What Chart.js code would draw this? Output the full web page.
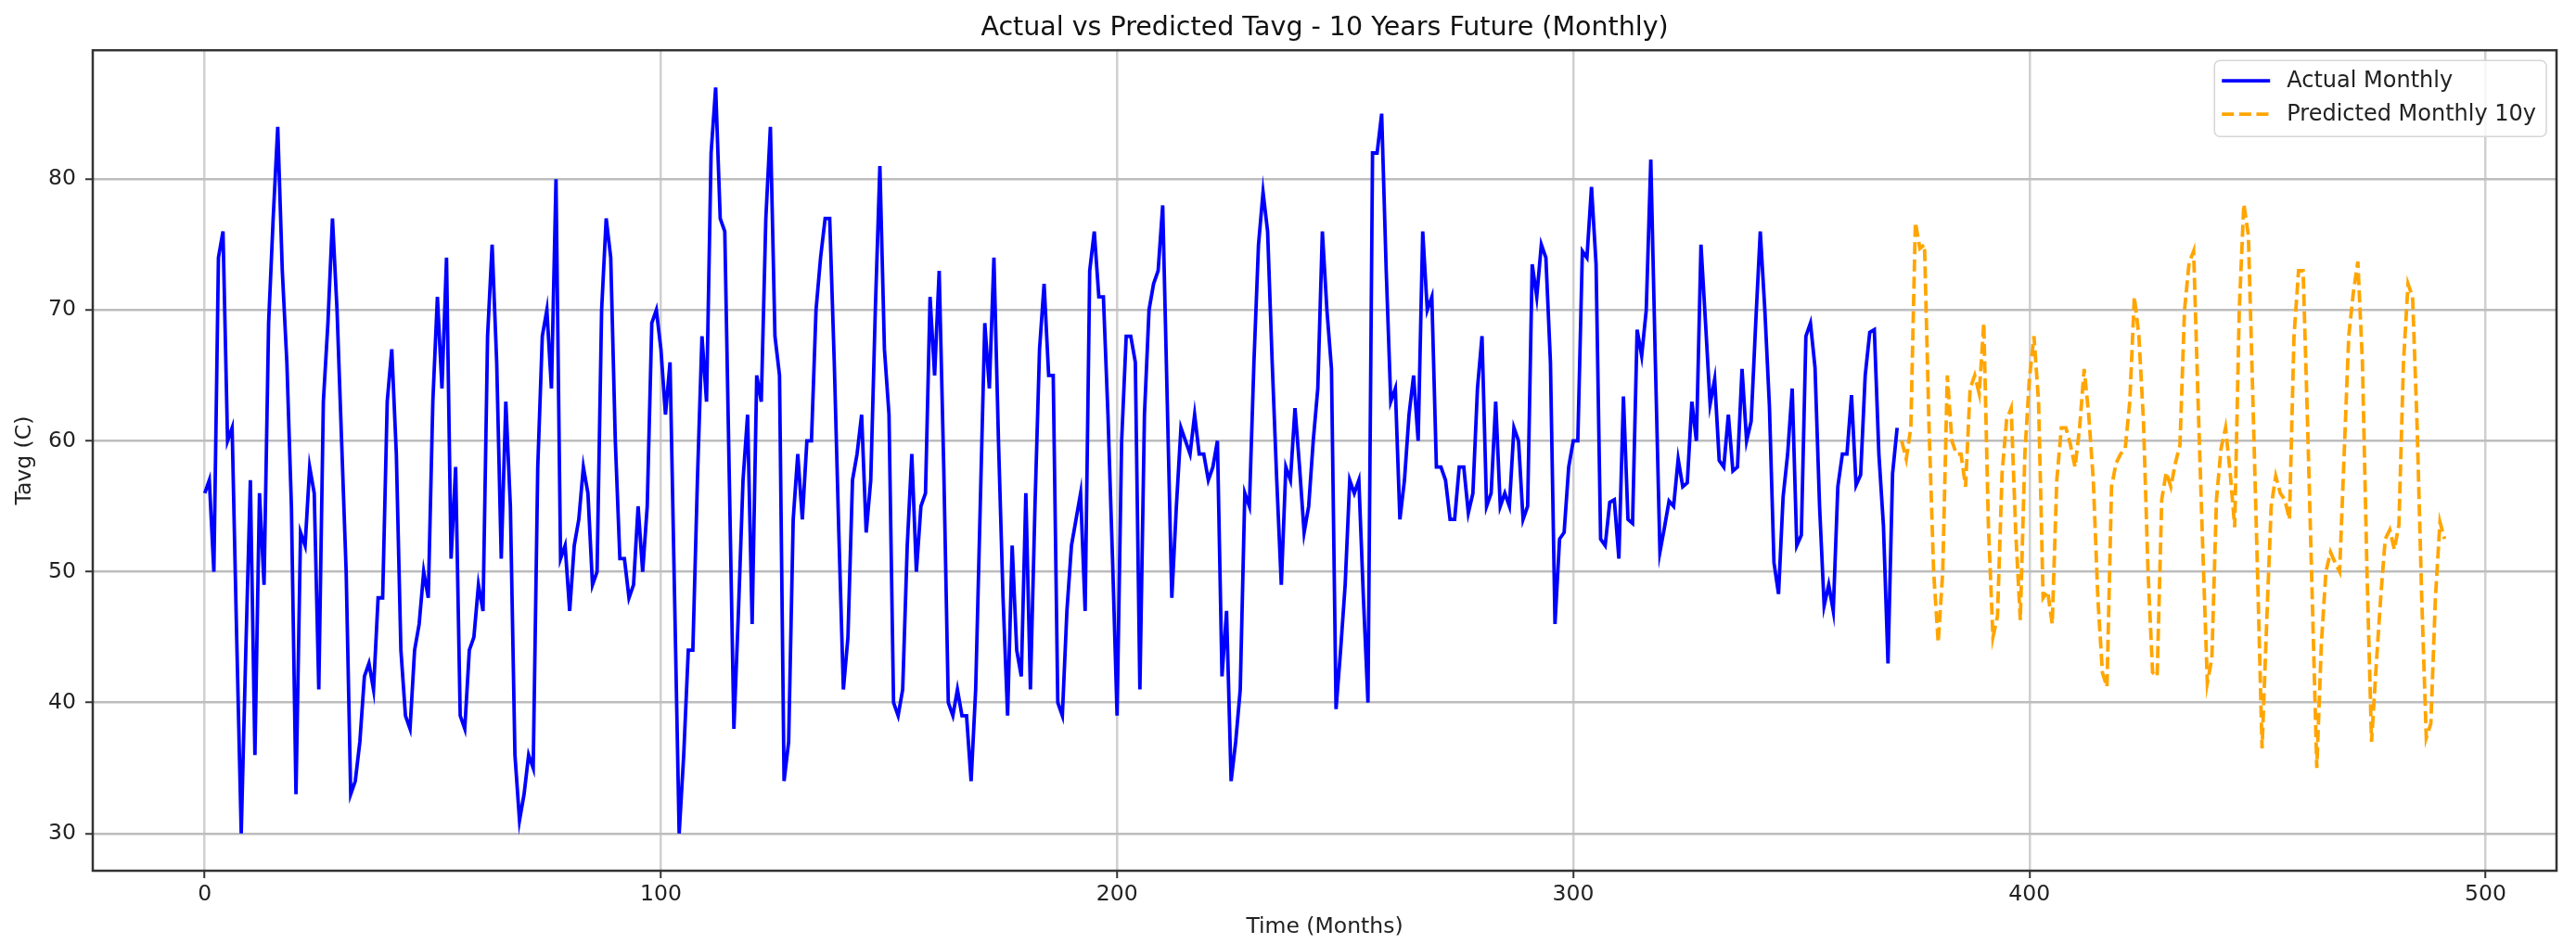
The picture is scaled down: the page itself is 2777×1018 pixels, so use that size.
<!DOCTYPE html>
<html>
<head>
<meta charset="utf-8">
<title>Actual vs Predicted Tavg</title>
<script src="https://cdn.jsdelivr.net/npm/chart.js@4.4.1/dist/chart.umd.min.js"></script>
<style>
  html, body { margin: 0; padding: 0; background: #fff; }
  canvas { display: block; }
</style>
</head>
<body>
<canvas id="tavgChart" width="2777" height="1018"></canvas>
<script>
// values, one per month
const actualMonthly = [
  56, 57, 50, 74, 76, 60, 61, 45, 30, 44, 57, 36, 56, 49, 69, 77, 84, 73, 66, 55,
  33, 53, 52, 58, 56, 41, 63, 69, 77, 70, 60, 50, 33, 34, 37, 42, 43, 41, 48, 48,
  63, 67, 59, 44, 39, 38, 44, 46, 50, 48, 63, 71, 64, 74, 51, 58, 39, 38, 44, 45,
  49, 47, 68, 75, 66, 51, 63, 55, 36, 31, 33, 36, 35, 58, 68, 70, 64, 80, 51, 52,
  47, 52, 54, 58, 56, 49, 50, 70, 77, 74, 60, 51, 51, 48, 49, 55, 50, 55, 69, 70,
  67, 62, 66, 48, 30, 36, 44, 44, 57, 68, 63, 82, 87, 77, 76, 57, 38, 47, 57, 62,
  46, 65, 63, 77, 84, 68, 65, 34, 37, 54, 59, 54, 60, 60, 70, 74, 77, 77, 66, 53,
  41, 45, 57, 59, 62, 53, 57, 70, 81, 67, 62, 40, 39, 41, 52, 59, 50, 55, 56, 71,
  65, 73, 58, 40, 39, 41, 39, 39, 34, 41, 55, 69, 64, 74, 60, 48, 39, 52, 44, 42,
  56, 41, 55, 67, 72, 65, 65, 40, 39, 47, 52, 54, 56, 47, 73, 76, 71, 71, 62, 51,
  39, 60, 68, 68, 66, 41, 62, 70, 72, 73, 78, 63, 48, 55, 61, 60, 59, 62, 59, 59,
  57, 58, 60, 42, 47, 34, 37, 41, 56, 55, 66, 75, 79, 76, 66, 57, 49, 58, 57, 62.5,
  58, 53, 55, 60, 64, 76, 70, 65.5, 39.5, 44, 49, 57, 56, 57, 48, 40, 82, 82, 85, 73,
  63, 64, 54, 57, 62, 65, 60, 76, 70, 71, 58, 58, 57, 54, 54, 58, 58, 54.5, 56, 64,
  68, 55, 56, 63, 55, 56, 55, 61, 60, 54, 55, 73.5, 71, 75, 74, 66, 46, 52.5, 53, 58,
  60, 60, 74.5, 74, 79.4, 73.5, 52.5, 52, 55.3, 55.5, 51, 63.4, 54, 53.7, 68.5, 66.5, 70, 81.5, 66, 51.5,
  53.4, 55.4, 55, 58.6, 56.5, 56.8, 63, 60, 75, 69, 62.8, 64.7, 58.5, 58, 62, 57.7, 58, 65.5, 60, 61.5,
  69, 76, 70, 62.7, 50.7, 48.3, 55.7, 59, 64, 52, 52.8, 68, 69, 65.6, 55, 47.4, 49, 47, 56.5, 59,
  59, 63.5, 56.6, 57.4, 65, 68.3, 68.5, 59, 53.5, 43, 57.5, 61
];

const predictedMonthly = [
  60, 58.6, 61, 76.7, 74.7, 75, 61, 50, 44.6, 50, 65, 60, 59, 59, 56.5, 64, 65, 63.6, 69, 53.6,
  45, 46.6, 57.5, 61.6, 62.5, 53, 46.3, 59, 64.8, 68, 63, 48, 48.5, 46, 57, 61, 61, 59.7, 58, 61,
  65.5, 62, 57, 48, 42.3, 41.2, 56.5, 58.3, 59, 59.4, 63, 71, 68, 61.5, 50, 42.3, 42, 55.5, 57.6, 56.5,
  58.3, 59.7, 70, 73.6, 74.5, 62.7, 51.8, 41.5, 43.4, 55.5, 59.4, 61, 57.6, 53.4, 70, 78.1, 75.7, 63, 50, 36.5,
  46, 55, 57.3, 56, 55.5, 54, 68, 73, 73, 61, 48, 35, 44.5, 50, 51.5, 50.7, 50, 59, 68, 71.3,
  73.7, 66, 50, 37, 42.7, 48, 52.5, 53.2, 51.7, 53.6, 66, 72, 71, 61, 48, 37.3, 38.4, 48, 53.8, 52.5
];

const seriesLabels = ["Actual Monthly", "Predicted Monthly 10y"];
const xTicks = [0, 100, 200, 300, 400, 500];
const yTicks = [30, 40, 50, 60, 70, 80];

const FONT = "'DejaVu Sans', 'Liberation Sans', sans-serif";

// predicted months continue right after the last actual month
const actualPoints = actualMonthly.map((v, i) => ({ x: i, y: v }));
const predictedPoints = predictedMonthly.map((v, i) => ({ x: actualMonthly.length + i, y: v }));

// full box round the plot, like matplotlib spines
const frame = {
  id: "frame",
  afterDatasetsDraw(chart) {
    const { ctx, chartArea: a } = chart;
    ctx.save();
    ctx.strokeStyle = "#333";
    ctx.lineWidth = 2.5;
    ctx.strokeRect(a.left, a.top, a.right - a.left, a.bottom - a.top);
    ctx.restore();
  },
};

// legend inside the plot, top right
const innerLegend = {
  id: "innerLegend",
  afterDraw(chart) {
    const { ctx, chartArea: a } = chart;
    const sets = chart.data.datasets;
    ctx.save();
    ctx.font = "24px " + FONT;
    let textW = 0;
    sets.forEach((d) => { textW = Math.max(textW, ctx.measureText(d.label).width); });
    const lineLen = 52, gap = 18, pad = 8, rowH = 36;
    const w = pad + lineLen + gap + textW + 11;
    const h = 82;
    const x0 = a.right - 11 - w;
    const y0 = a.top + 11;

    ctx.beginPath();
    ctx.roundRect(x0, y0, w, h, 6);
    ctx.fillStyle = "rgba(255,255,255,0.8)";
    ctx.fill();
    ctx.strokeStyle = "#d6d6d6";
    ctx.lineWidth = 1.5;
    ctx.stroke();

    sets.forEach((d, i) => {
      const y = y0 + 22 + i * rowH;
      ctx.beginPath();
      ctx.setLineDash(d.borderDash || []);
      ctx.strokeStyle = d.borderColor;
      ctx.lineWidth = d.borderWidth;
      ctx.moveTo(x0 + pad, y);
      ctx.lineTo(x0 + pad + lineLen, y);
      ctx.stroke();
      ctx.setLineDash([]);
      ctx.fillStyle = "#222";
      ctx.textBaseline = "middle";
      ctx.fillText(d.label, x0 + pad + lineLen + gap, y + 1);
    });
    ctx.restore();
  },
};

const ctx = document.getElementById("tavgChart").getContext("2d");

const tavgChart = new Chart(ctx, {
  type: "line",
  data: {
    datasets: [
      {
        label: seriesLabels[0],
        data: actualPoints,
        borderColor: "#0000ff",
        borderWidth: 3.8,
        pointRadius: 0,
        tension: 0,
      },
      {
        label: seriesLabels[1],
        data: predictedPoints,
        borderColor: "#ffa500",
        borderWidth: 3.8,
        borderDash: [13, 5.6],
        pointRadius: 0,
        tension: 0,
      },
    ],
  },
  options: {
    responsive: false,
    animation: false,
    devicePixelRatio: 1,
    parsing: false,
    layout: { padding: { left: 0, right: 21, top: 0, bottom: 0 } },
    plugins: {
      legend: { display: false },
      tooltip: { enabled: false },
      title: {
        display: true,
        fullSize: false, // centre over the plot, not the whole canvas
        text: "Actual vs Predicted Tavg - 10 Years Future (Monthly)",
        color: "#111",
        font: { family: FONT, size: 28.5, weight: "normal", lineHeight: 1.2 },
        padding: { top: 13, bottom: 7 },
      },
    },
    scales: {
      x: {
        type: "linear",
        min: -24.55,
        max: 515.55,
        afterBuildTicks: (s) => { s.ticks = xTicks.map((v) => ({ value: v })); },
        afterFit: (s) => { s.height = 79; },
        ticks: {
          color: "#222",
          padding: 4,
          maxRotation: 0,
          font: { family: FONT, size: 23.5 },
        },
        grid: {
          color: "#d0d0d0",
          lineWidth: 2.5,
          drawTicks: true,
          tickLength: 8,
          tickColor: "#333",
          tickWidth: 2,
        },
        border: { display: false },
        title: {
          display: true,
          text: "Time (Months)",
          color: "#222",
          font: { family: FONT, size: 23.5, lineHeight: 1.2 },
          padding: { top: 0, bottom: 4 },
        },
      },
      y: {
        type: "linear",
        min: 27.15,
        max: 89.85,
        afterBuildTicks: (s) => { s.ticks = yTicks.map((v) => ({ value: v })); },
        afterFit: (s) => { s.width = 100; },
        ticks: {
          color: "#222",
          padding: 10,
          font: { family: FONT, size: 23.5 },
        },
        grid: {
          color: "#bdbdbd",
          lineWidth: 2.5,
          drawTicks: true,
          tickLength: 8,
          tickColor: "#333",
          tickWidth: 2,
        },
        border: { display: false },
        title: {
          display: true,
          text: "Tavg (C)",
          color: "#222",
          font: { family: FONT, size: 23.5, lineHeight: 1.2 },
          padding: { top: 13, bottom: 0 },
        },
      },
    },
  },
  plugins: [frame, innerLegend],
});
</script>
</body>
</html>
